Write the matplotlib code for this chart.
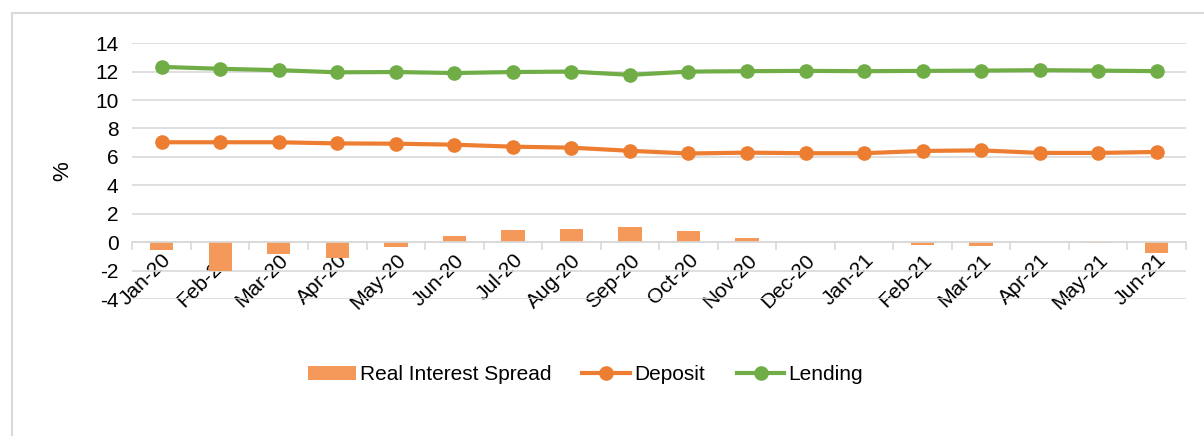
import matplotlib.pyplot as plt
import numpy as np
from matplotlib.patches import Rectangle

# Monthly data
months = ['Jan-20', 'Feb-20', 'Mar-20', 'Apr-20', 'May-20', 'Jun-20', 'Jul-20', 'Aug-20',
          'Sep-20', 'Oct-20', 'Nov-20', 'Dec-20', 'Jan-21', 'Feb-21', 'Mar-21', 'Apr-21',
          'May-21', 'Jun-21']
spread = [-0.57, -2.0, -0.82, -1.1, -0.33, 0.45, 0.87, 0.94, 1.08, 0.82, 0.28, 0.05,
          0.0, -0.22, -0.3, 0.0, -0.05, -0.78]
deposit = [7.03, 7.03, 7.03, 6.95, 6.93, 6.86, 6.72, 6.65, 6.43, 6.24, 6.3, 6.26,
           6.26, 6.42, 6.46, 6.28, 6.28, 6.35]
lending = [12.33, 12.2, 12.1, 11.95, 11.97, 11.9, 11.97, 12.0, 11.77, 12.0, 12.03, 12.05,
           12.03, 12.05, 12.07, 12.1, 12.07, 12.03]

plt.rcParams['font.family'] = ['Liberation Sans', 'DejaVu Sans']
plt.rcParams['axes.unicode_minus'] = False
fs = 15

fig = plt.figure(figsize=(12.04, 4.36), dpi=100)
ax = fig.add_axes([0.110, 0.314, 0.875, 0.587])

# light outer frame of the chart area
fig.patches.append(Rectangle((12 / 1204, -0.1), 1.1, 1.1 - 13 / 436,
                             transform=fig.transFigure, fill=False,
                             edgecolor='#d9d9d9', linewidth=1.5))

x = np.arange(len(months))
bars = ax.bar(x, spread, width=0.4, color='#f4995a', label='Real Interest Spread', zorder=2)
dep, = ax.plot(x, deposit, '-o', color='#ed7d31', linewidth=3, markersize=9.5,
               label='Deposit', zorder=3)
lend, = ax.plot(x, lending, '-o', color='#70ad47', linewidth=3, markersize=9.5,
                label='Lending', zorder=3)

ax.set_xlim(-0.5, len(months) - 0.5)
ax.set_ylim(-4, 14)
ax.set_yticks(np.arange(-4, 15, 2))
ax.grid(axis='y', color='#d9d9d9', linewidth=1.2, zorder=0)
ax.set_axisbelow(True)

for side in ['top', 'right', 'left']:
    ax.spines[side].set_visible(False)
ax.spines['bottom'].set_position(('data', 0))
ax.spines['bottom'].set_color('#d9d9d9')
ax.spines['bottom'].set_linewidth(1.2)

ax.set_xticks(x)
ax.set_xticklabels(months, rotation=45, ha='right', rotation_mode='anchor', fontsize=fs)
ax.set_xticks(np.arange(-0.5, len(months), 1), minor=True)
ax.tick_params(axis='x', which='major', length=0, pad=6)
ax.tick_params(axis='x', which='minor', length=6, color='#d9d9d9', width=1.2)
ax.tick_params(axis='y', length=0, labelsize=fs, pad=10)
ax.set_ylabel('%', fontsize=fs + 1, labelpad=16)

ax.legend([bars, dep, lend], ['Real Interest Spread', 'Deposit', 'Lending'],
          loc='center', bbox_to_anchor=(0.43, -0.296), ncol=3, frameon=False,
          fontsize=fs, handlelength=2.3, handletextpad=0.2, columnspacing=1.5)

fig.savefig('out.png', dpi=100)
